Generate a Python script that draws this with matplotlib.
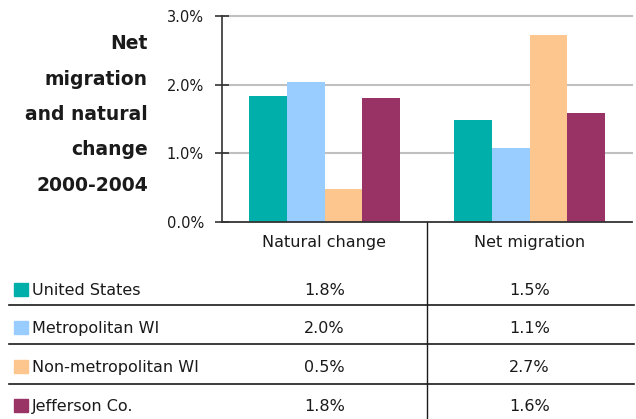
#!/usr/bin/env python3
"""Net migration and natural change 2000-2004, bar chart with data table."""

import matplotlib

matplotlib.use("Agg")
import matplotlib.pyplot as plt
from matplotlib import transforms
from matplotlib.lines import Line2D
from matplotlib.patches import Rectangle

categories = ["Natural change", "Net migration"]
series_names = ["United States", "Metropolitan WI", "Non-metropolitan WI", "Jefferson Co."]
united_states = [1.84, 1.49]
metro_wi = [2.04, 1.08]
nonmetro_wi = [0.485, 2.72]
jefferson = [1.81, 1.59]
y_ticks = [0.0, 1.0, 2.0, 3.0]
title_lines = ["Net", "migration", "and natural", "change", "2000-2004"]

COLORS = ["#00AFA9", "#99CCFF", "#FDC68E", "#993366"]
TEXT = "#1a1a1a"

W, H = 636, 419


def fx(px):
    return px / W


def fy(py):
    return 1 - py / H


plt.rcParams["font.family"] = ["DejaVu Sans"]

fig = plt.figure(figsize=(6.36, 4.19), dpi=100)
ax = fig.add_axes([fx(222), fy(222), fx(632) - fx(222), fy(16) - fy(222)])

series = [united_states, metro_wi, nonmetro_wi, jefferson]
bar_w = 0.183
n = len(series)
for i, (vals, color) in enumerate(zip(series, COLORS)):
    offs = (i - (n - 1) / 2) * bar_w
    ax.bar([k + offs for k in range(len(categories))], vals, width=bar_w,
           color=color, zorder=3, linewidth=0)

ax.set_xlim(-0.5, len(categories) - 0.5)
ax.set_ylim(0, 3.0)
ax.set_yticks(y_ticks)
ax.set_yticklabels([f"{t:.1f}%" for t in y_ticks], fontsize=10.5, color=TEXT)
ax.tick_params(axis="y", direction="inout", length=10, width=1.2, pad=8, color="#333333")
ax.set_xticks([])
for t in y_ticks[1:]:
    ax.axhline(t, color="#C0C0C0", linewidth=1.5, zorder=1, clip_on=False)
ax.axhline(0, color="#333333", linewidth=1.3, zorder=4, clip_on=False)
for side in ["top", "right", "bottom"]:
    ax.spines[side].set_visible(False)
ax.spines["left"].set_color("#333333")
ax.spines["left"].set_linewidth(1.2)

# title block on the left
for line, base in zip(title_lines, [49, 85, 120, 155, 191]):
    fig.text(fx(148), fy(base), line, ha="right", va="baseline",
             fontsize=13.5, fontweight="bold", color=TEXT)

# data table under the chart
blend = transforms.blended_transform_factory(ax.transData, fig.transFigure)
for k, cat in enumerate(categories):
    ax.text(k, fy(247), cat, transform=blend, ha="center", va="baseline",
            fontsize=11.5, color=TEXT)

row_centers = [289, 327, 366, 405]
for name, vals, color, yc in zip(series_names, series, COLORS, row_centers):
    fig.patches.append(Rectangle((fx(14), fy(yc + 6.5)), fx(14), fy(0) - fy(13),
                                 transform=fig.transFigure, color=color, figure=fig))
    fig.text(fx(32), fy(yc), name, ha="left", va="center_baseline",
             fontsize=11.5, color=TEXT)
    for k, v in enumerate(vals):
        ax.text(k, fy(yc), f"{v:.1f}%", transform=blend, ha="center",
                va="center_baseline", fontsize=11.5, color=TEXT)

for py in [305, 344, 384]:
    fig.lines.append(Line2D([fx(9), fx(634)], [fy(py), fy(py)], transform=fig.transFigure,
                            color="#1a1a1a", linewidth=1.2))

ax.add_line(Line2D([0.5, 0.5], [fy(222), 0], transform=blend, color="#1a1a1a",
                   linewidth=1.0, clip_on=False))

fig.savefig("out.png", dpi=100)
